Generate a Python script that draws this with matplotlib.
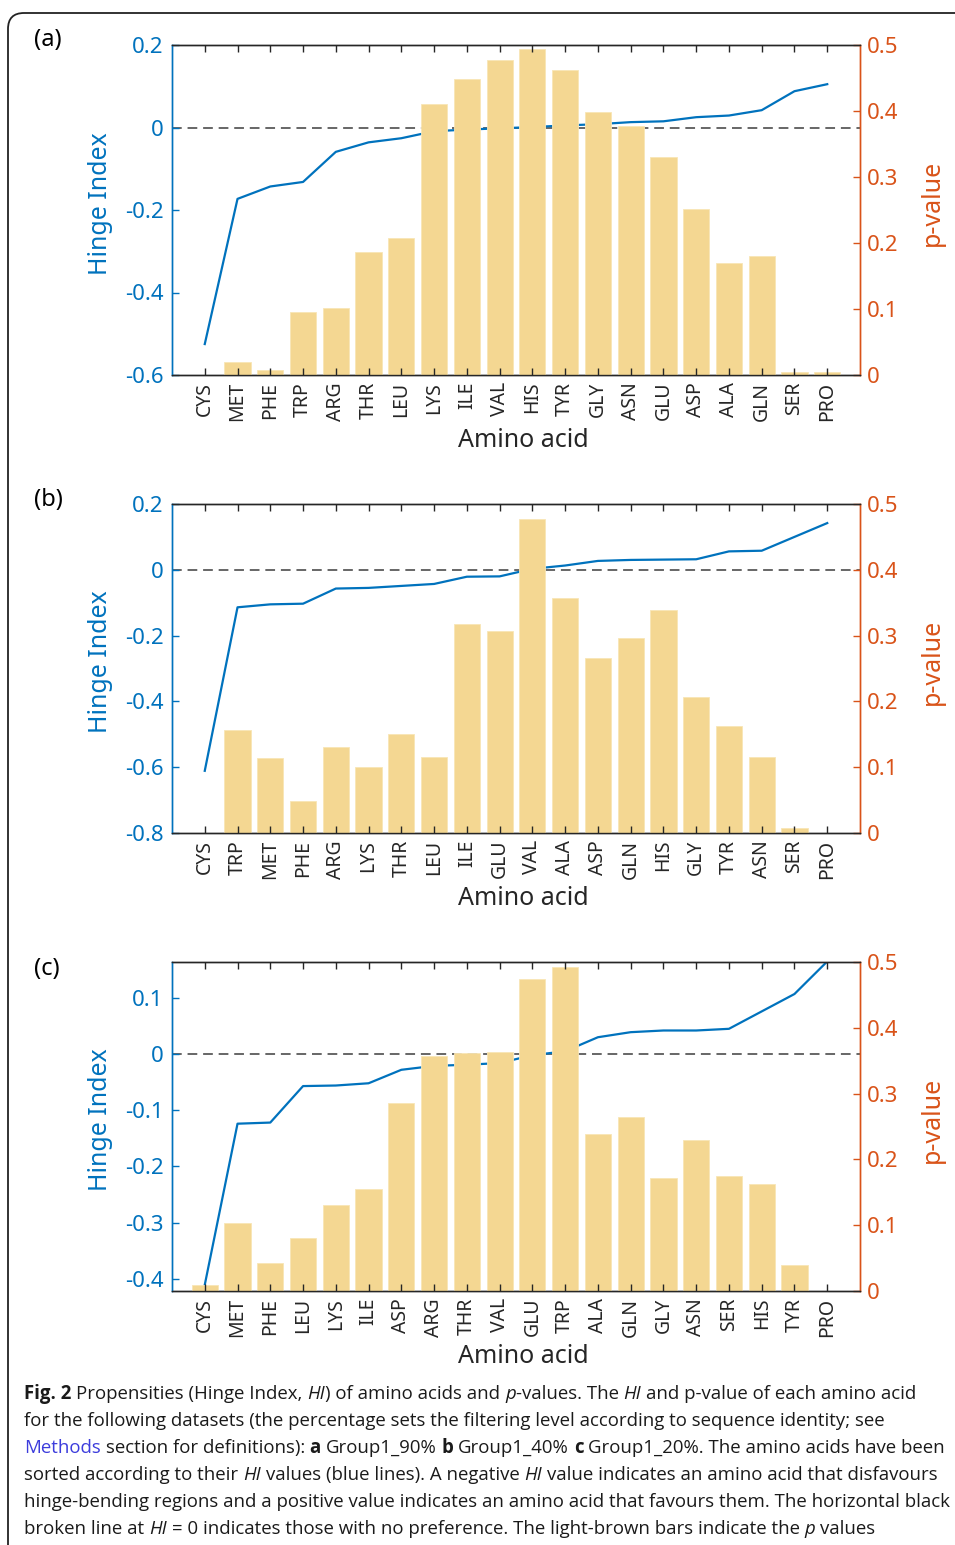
import matplotlib
matplotlib.use('Agg')
import matplotlib.pyplot as plt
from matplotlib.patches import FancyBboxPatch
import numpy as np

plt.rcParams['font.family'] = ['Noto Sans', 'DejaVu Sans']
plt.rcParams['axes.unicode_minus'] = False

# (a) Group1_90%
aa_a = ['CYS', 'MET', 'PHE', 'TRP', 'ARG', 'THR', 'LEU', 'LYS', 'ILE', 'VAL',
        'HIS', 'TYR', 'GLY', 'ASN', 'GLU', 'ASP', 'ALA', 'GLN', 'SER', 'PRO']
hi_a = [-0.525, -0.173, -0.143, -0.132, -0.059, -0.036, -0.026, -0.009, -0.005, -0.002,
        0.001, 0.005, 0.008, 0.013, 0.015, 0.025, 0.029, 0.042, 0.088, 0.105]
p_a = [0.0, 0.020, 0.007, 0.095, 0.101, 0.187, 0.208, 0.411, 0.449, 0.478,
       0.494, 0.462, 0.399, 0.378, 0.330, 0.251, 0.170, 0.181, 0.004, 0.004]

# (b) Group1_40%
aa_b = ['CYS', 'TRP', 'MET', 'PHE', 'ARG', 'LYS', 'THR', 'LEU', 'ILE', 'GLU',
        'VAL', 'ALA', 'ASP', 'GLN', 'HIS', 'GLY', 'TYR', 'ASN', 'SER', 'PRO']
hi_b = [-0.611, -0.114, -0.105, -0.103, -0.057, -0.055, -0.049, -0.043, -0.021, -0.020,
        0.003, 0.013, 0.027, 0.030, 0.031, 0.032, 0.056, 0.058, 0.100, 0.142]
p_b = [0.0, 0.157, 0.114, 0.049, 0.130, 0.101, 0.150, 0.116, 0.318, 0.307,
       0.477, 0.357, 0.266, 0.296, 0.339, 0.207, 0.163, 0.116, 0.007, 0.0]

# (c) Group1_20%
aa_c = ['CYS', 'MET', 'PHE', 'LEU', 'LYS', 'ILE', 'ASP', 'ARG', 'THR', 'VAL',
        'GLU', 'TRP', 'ALA', 'GLN', 'GLY', 'ASN', 'SER', 'HIS', 'TYR', 'PRO']
hi_c = [-0.411, -0.124, -0.122, -0.057, -0.056, -0.052, -0.028, -0.021, -0.019, -0.016,
        -0.002, 0.005, 0.030, 0.039, 0.042, 0.042, 0.045, 0.076, 0.107, 0.165]
p_c = [0.009, 0.103, 0.043, 0.080, 0.130, 0.155, 0.285, 0.357, 0.362, 0.363,
       0.474, 0.493, 0.238, 0.265, 0.171, 0.229, 0.175, 0.163, 0.040, 0.0]

p_ticks = [0, 0.1, 0.2, 0.3, 0.4, 0.5]

BLUE = '#0072BD'
ORANGE = '#D95319'
BAR = '#F4D792'
DARK = '#262626'

W, H = 955, 1545
fig = plt.figure(figsize=(W / 100, H / 100), dpi=100)


def box(left, top, right, bottom):
    return [left / W, 1 - bottom / H, (right - left) / W, (bottom - top) / H]


def panel(rect, names, hi, pv, hi_lim, hi_ticks, tag, tag_y):
    ax = fig.add_axes(rect)
    ax2 = ax.twinx()
    x = np.arange(1, len(names) + 1)

    ax.axhline(0, color='0.4', lw=1.4, ls=(0, (5, 3)), zorder=1)
    ax.plot(x, hi, color=BLUE, lw=1.6, zorder=2)
    ax2.bar(x, pv, width=0.8, color=BAR, edgecolor='#F8E6B6', linewidth=0.6)

    ax.set_xlim(0, len(names) + 1)
    ax.set_ylim(*hi_lim)
    ax2.set_ylim(0, 0.5)

    # category ticks live on the twin so they sit above the bars
    ax.tick_params(axis='x', bottom=False, top=False, labelbottom=False)
    ax2.xaxis.set_visible(True)
    ax2.set_xticks(x)
    ax2.set_xticklabels(names, rotation=90, fontsize=14, color=DARK)
    ax2.tick_params(axis='x', direction='in', length=5, width=1, color=DARK,
                    top=True, bottom=True, pad=5)

    ax.set_yticks(hi_ticks)
    ax.set_yticklabels([f'{v:g}' for v in hi_ticks])
    ax.tick_params(axis='y', direction='in', length=5, width=1, colors=BLUE,
                   labelsize=16, pad=6)
    ax2.set_yticks(p_ticks)
    ax2.set_yticklabels([f'{v:g}' for v in p_ticks])
    ax2.tick_params(axis='y', direction='in', length=5, width=1, colors=ORANGE,
                    labelsize=16, pad=5)

    for a in (ax, ax2):
        a.spines['left'].set_color(BLUE)
        a.spines['right'].set_color(ORANGE)
        a.spines['top'].set_color(DARK)
        a.spines['bottom'].set_color(DARK)
        for s in a.spines.values():
            s.set_linewidth(1.0)

    ax.set_ylabel('Hinge Index', fontsize=18, color=BLUE)
    ax.yaxis.set_label_coords(-0.086, 0.52)
    ax2.set_ylabel('p-value', fontsize=18, color=ORANGE)
    ax2.yaxis.set_label_coords(1.087, 0.52)
    ax2.set_xlabel('Amino acid', fontsize=18, color=DARK)
    ax2.xaxis.set_label_coords(0.51, -0.16)

    fig.text(34 / W, 1 - tag_y / H, tag, fontsize=17, va='center', ha='left')


panel(box(172, 45, 860, 375), aa_a, hi_a, p_a, (-0.6, 0.2),
      [-0.6, -0.4, -0.2, 0, 0.2], '(a)', 40)
panel(box(172, 504, 860, 833), aa_b, hi_b, p_b, (-0.8, 0.2),
      [-0.8, -0.6, -0.4, -0.2, 0, 0.2], '(b)', 500)
panel(box(172, 962, 860, 1291), aa_c, hi_c, p_c, (-0.422, 0.164),
      [-0.4, -0.3, -0.2, -0.1, 0, 0.1], '(c)', 969)

# rounded frame around the figure
frame = FancyBboxPatch((8, -30), 1100, H - 13 + 30,
                       boxstyle='round,pad=0,rounding_size=16',
                       transform=None, fill=False, ec='#222222', lw=1.3)
fig.add_artist(frame)

# caption, drawn piece by piece so that bold / italic / link runs line up
CAP = ['Open Sans', 'DejaVu Sans']
CAP_SIZE = 13.4
renderer = fig.canvas.get_renderer()
NORMAL = {}
BOLD = {'weight': 'bold'}
ITAL = {'style': 'italic'}
LINK = {'color': '#3c3cdc'}

caption = [
    [('Fig. 2', BOLD), (' Propensities (Hinge Index, ', NORMAL), ('HI', ITAL),
     (') of amino acids and ', NORMAL), ('p', ITAL), ('-values. The ', NORMAL),
     ('HI', ITAL), (' and p-value of each amino acid', NORMAL)],
    [('for the following datasets (the percentage sets the filtering level '
      'according to sequence identity; see', NORMAL)],
    [('Methods', LINK), (' section for definitions): ', NORMAL), ('a', BOLD),
     (' Group1_90% ', NORMAL), ('b', BOLD), (' Group1_40% ', NORMAL), ('c', BOLD),
     (' Group1_20%. The amino acids have been', NORMAL)],
    [('sorted according to their ', NORMAL), ('HI', ITAL),
     (' values (blue lines). A negative ', NORMAL), ('HI', ITAL),
     (' value indicates an amino acid that disfavours', NORMAL)],
    [('hinge-bending regions and a positive value indicates an amino acid that '
      'favours them. The horizontal black', NORMAL)],
    [('broken line at ', NORMAL), ('HI', ITAL),
     (' = 0 indicates those with no preference. The light-brown bars indicate the ', NORMAL),
     ('p', ITAL), (' values', NORMAL)],
]

probe_a = fig.text(0, 0, 'a a', fontsize=CAP_SIZE, family=CAP)
probe_b = fig.text(0, 0, 'aa', fontsize=CAP_SIZE, family=CAP)
space_w = (probe_a.get_window_extent(renderer).width
           - probe_b.get_window_extent(renderer).width)
probe_a.remove()
probe_b.remove()

line_y = [1394, 1421, 1448, 1475, 1502, 1529]
for y, parts in zip(line_y, caption):
    x = 24
    for txt, style in parts:
        lead = len(txt) - len(txt.lstrip(' '))
        trail = len(txt) - len(txt.rstrip(' '))
        x += lead * space_w
        kw = dict(style)
        color = kw.pop('color', '#1a1a1a')
        t = fig.text(x / W, 1 - y / H, txt.strip(' '), fontsize=CAP_SIZE, family=CAP,
                     color=color, va='center', ha='left', **kw)
        x += t.get_window_extent(renderer).width + trail * space_w

fig.savefig('out.png', dpi=100)
